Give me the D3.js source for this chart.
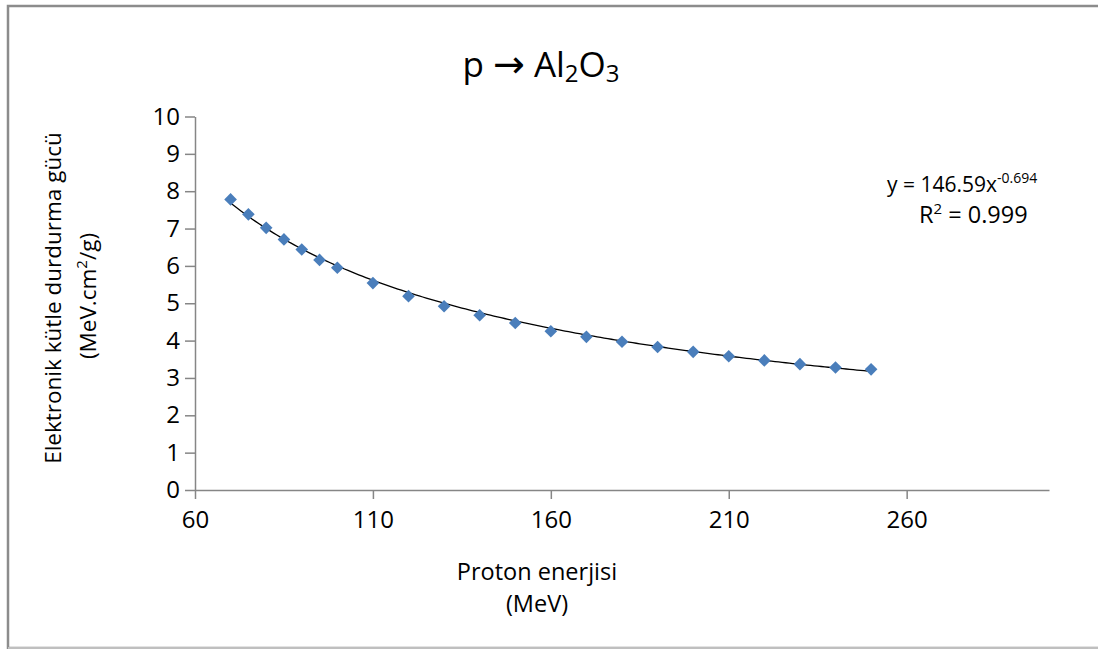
<!DOCTYPE html>
<html>
<head>
<meta charset="utf-8">
<script src="https://cdn.jsdelivr.net/npm/d3@7"></script>
<style>
  html, body { margin: 0; padding: 0; background: #fff; }
  svg { display: block; }
  text { font-family: "Open Sans", "Noto Sans", sans-serif; fill: #000; }
</style>
</head>
<body>
<svg id="chart" width="1098" height="649"></svg>
<script>
const energies = [70, 75, 80, 85, 90, 95, 100, 110, 120, 130, 140, 150, 160, 170, 180, 190, 200, 210, 220, 230, 240, 250];
const stopping = [7.78, 7.38, 7.02, 6.71, 6.44, 6.16, 5.95, 5.54, 5.19, 4.92, 4.68, 4.47, 4.25, 4.10, 3.97, 3.83, 3.70, 3.58, 3.47, 3.37, 3.28, 3.23];
const xTicks = [60, 110, 160, 210, 260];
const yTicks = [0, 1, 2, 3, 4, 5, 6, 7, 8, 9, 10];
const fitA = 146.59, fitB = -0.694;

const svg = d3.select("#chart");

// outer border
svg.append("rect").attr("x", 8).attr("y", 6).attr("width", 1100).attr("height", 642)
  .attr("fill", "none").attr("stroke", "#8c8c8c").attr("stroke-width", 2.5);
svg.append("line").attr("x1", 8).attr("x2", 1098).attr("y1", 648).attr("y2", 648)
  .attr("stroke", "#d0d0d0").attr("stroke-width", 1.5);

const x = d3.scaleLinear().domain([60, 300]).range([195, 1049]);
const y = d3.scaleLinear().domain([0, 10]).range([490, 116.5]);

const axisColor = "#868686";

// axes
const gx = svg.append("g").attr("transform", "translate(0,490)")
  .call(d3.axisBottom(x).tickValues(xTicks).tickSize(9).tickSizeOuter(0).tickPadding(10));
const gy = svg.append("g").attr("transform", "translate(195,0)")
  .call(d3.axisLeft(y).tickValues(yTicks).tickSize(10).tickSizeOuter(0).tickPadding(5));
[gx, gy].forEach(g => {
  g.attr("font-size", null).attr("font-family", null);
  g.select(".domain").attr("stroke", axisColor).attr("stroke-width", 1.5);
  g.selectAll(".tick line").attr("stroke", axisColor).attr("stroke-width", 1.5);
  g.selectAll(".tick text").attr("font-size", 24).attr("fill", "#000")
    .style("font-family", "'Open Sans', sans-serif");
});
gx.selectAll(".tick text").attr("dy", "0.78em");

// trendline
const fitXs = d3.range(energies[0], energies[energies.length - 1] + 0.5, 1);
svg.append("path")
  .datum(fitXs)
  .attr("fill", "none").attr("stroke", "#000").attr("stroke-width", 1.3)
  .attr("d", d3.line().x(d => x(d)).y(d => y(fitA * Math.pow(d, fitB))));

// markers
const pts = energies.map((e, i) => ({e, s: stopping[i]}));
svg.append("g").selectAll("path").data(pts).join("path")
  .attr("transform", d => `translate(${x(d.e)},${y(d.s)}) rotate(45)`)
  .attr("d", d3.symbol(d3.symbolSquare, 80)())
  .attr("fill", "#4a7ebb");

// title
const title = svg.append("text").attr("x", 541).attr("y", 77).attr("text-anchor", "middle")
  .attr("font-size", 35);
title.append("tspan").text("p ");
title.append("tspan").style("font-family", "'DejaVu Sans', sans-serif").attr("font-size", 38).text("\u2192");
title.append("tspan").text(" Al");
title.append("tspan").attr("font-size", 24).attr("dy", 5).text("2");
title.append("tspan").attr("dy", -5).text("O");
title.append("tspan").attr("font-size", 24).attr("dy", 5).text("3");

// y axis title
svg.append("text").attr("transform", "translate(61,298) rotate(-90)")
  .attr("text-anchor", "middle").attr("font-size", 22.5)
  .text("Elektronik kütle durdurma gücü");
const yt2 = svg.append("text").attr("transform", "translate(96,296) rotate(-90)")
  .attr("text-anchor", "middle").attr("font-size", 22.5);
yt2.append("tspan").text("(MeV.cm");
yt2.append("tspan").attr("font-size", 15).attr("dy", -9).text("2");
yt2.append("tspan").attr("dy", 9).text("/g)");

// x axis title
svg.append("text").attr("x", 537).attr("y", 580).attr("text-anchor", "middle")
  .attr("font-size", 23.5).text("Proton enerjisi");
svg.append("text").attr("x", 537).attr("y", 612).attr("text-anchor", "middle")
  .attr("font-size", 23.5).text("(MeV)");

// equation
const eq = svg.append("text").attr("x", 887).attr("y", 192).attr("font-size", 21);
eq.append("tspan").text("y = " + fitA + "x");
eq.append("tspan").attr("font-size", 14).attr("dy", -9).text(String(fitB));
const r2 = svg.append("text").attr("x", 919).attr("y", 223).attr("font-size", 23.5);
r2.append("tspan").text("R");
r2.append("tspan").attr("font-size", 15).attr("dy", -9).text("2");
r2.append("tspan").attr("dy", 9).text(" = 0.999");
</script>
</body>
</html>
